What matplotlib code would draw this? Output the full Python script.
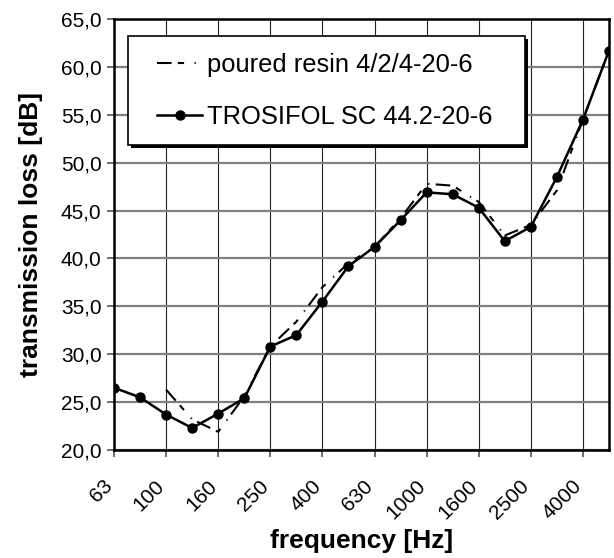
import numpy as np
import matplotlib
matplotlib.use('Agg')
import matplotlib.pyplot as plt
import matplotlib.transforms as mtransforms
from matplotlib.patches import Rectangle
from matplotlib.ticker import FuncFormatter

# third-octave bands
freqs = ['63', '80', '100', '125', '160', '200', '250', '315', '400', '500',
         '630', '800', '1000', '1250', '1600', '2000', '2500', '3150', '4000', '5000']
trosifol = [26.5, 25.5, 23.7, 22.3, 23.8, 25.4, 30.8, 32.0, 35.5, 39.2,
            41.2, 44.0, 46.9, 46.7, 45.3, 41.8, 43.3, 48.5, 54.5, 61.7]
resin = [np.nan, np.nan, 26.3, 23.2, 21.9, 25.6, 30.8, 33.4, 37.0, 39.5,
         41.2, 44.2, 47.8, 47.6, 45.9, 42.4, 43.5, 47.1, 54.5, 61.7]
resin_label = 'poured resin 4/2/4-20-6'
trosifol_label = 'TROSIFOL SC 44.2-20-6'

plt.rcParams['font.family'] = ['Liberation Sans', 'DejaVu Sans']

fig = plt.figure(figsize=(6.14, 5.58), dpi=100)
ax = fig.add_axes([114 / 614, 108 / 558, 495 / 614, 431 / 558])

x = np.arange(len(freqs))
ax.plot(x, resin, color='black', lw=1.5, dashes=(7, 3, 3, 5, 0.6, 3),
        label=resin_label, zorder=3)
ax.plot(x, trosifol, color='black', lw=1.8, marker='o', markersize=6.5,
        label=trosifol_label, zorder=4)

ax.set_xlim(0, len(freqs) - 1)
ax.set_ylim(20, 65)
ax.set_yticks(np.arange(20, 66, 5))
ax.yaxis.set_major_formatter(FuncFormatter(lambda v, p: f'{v:.1f}'.replace('.', ',')))
ax.set_xticks(x[::2])
ax.set_xticklabels(freqs[::2], rotation=45, ha='right', va='top', rotation_mode='anchor')

# grid: grey horizontal, thin black vertical
ax.grid(axis='y', color='#808080', lw=1.6, zorder=0)
ax.grid(axis='x', color='#222222', lw=0.8, zorder=0)
ax.set_axisbelow(True)

for s in ax.spines.values():
    s.set_linewidth(1.8)
ax.tick_params(axis='both', direction='out', length=5, width=1.2, color='#555555',
               labelsize=15, pad=4)
ax.tick_params(axis='x', pad=14)

# nudge the rotated labels left like the original
shift = mtransforms.ScaledTranslation(-0.11, 0, fig.dpi_scale_trans)
for lbl in ax.get_xticklabels():
    lbl.set_transform(lbl.get_transform() + shift)

ax.set_xlabel('frequency [Hz]', fontsize=19, fontweight='bold', labelpad=4)
ax.set_ylabel('transmission loss [dB]', fontsize=19, fontweight='bold', labelpad=13)

# legend box drawn by hand (wider side padding than legend allows)
box = Rectangle((0.0283, 0.7077), 0.8020, 0.2529, transform=ax.transAxes,
                facecolor='white', edgecolor='black', lw=1.2, zorder=6)
shadow = Rectangle((0.0283 + 3 / 495, 0.7077 - 3 / 431), 0.8020, 0.2529,
                   transform=ax.transAxes, facecolor='black', edgecolor='none', zorder=5.9)
ax.add_patch(shadow)
ax.add_patch(box)

leg = ax.legend(loc='upper left', bbox_to_anchor=(0.0869, 0.921), fontsize=18.4,
                frameon=False, handlelength=1.76, handletextpad=0.2,
                labelspacing=1.1, borderpad=0, borderaxespad=0)
leg.set_zorder(7)

fig.savefig('out.png', dpi=100)
